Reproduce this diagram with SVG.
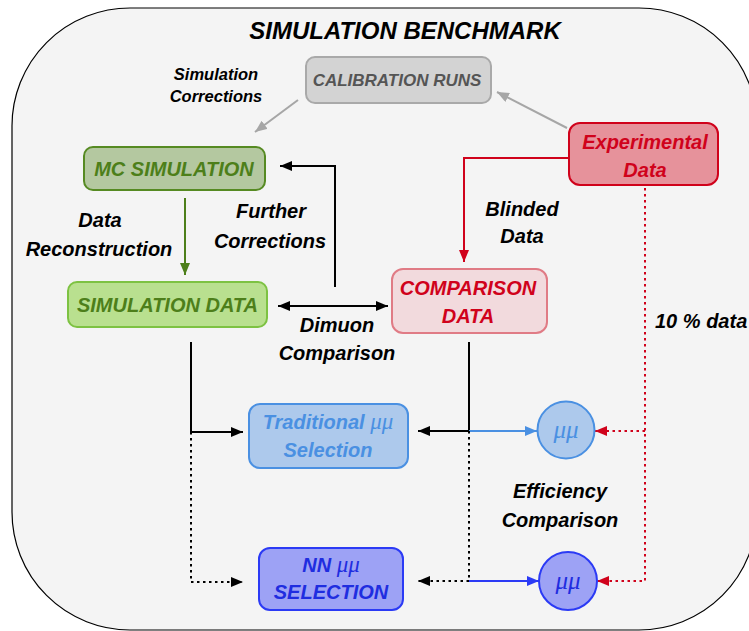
<svg xmlns="http://www.w3.org/2000/svg" width="749" height="631" viewBox="0 0 749 631">
<style>
  text { font-family: "Liberation Sans", Arial, sans-serif; font-weight: bold; font-style: italic; }
  .lbl { font-size: 20px; fill: #000; text-anchor: middle; }
  .node { font-size: 20px; text-anchor: middle; }
  .mu { font-family: "Liberation Serif", "Times New Roman", serif; font-weight: normal; font-style: italic; }
  .conn { fill: none; stroke-width: 2; }
  .dot { stroke-dasharray: 2.5 3.5; }
</style>
<defs>
  <marker id="ak" markerUnits="userSpaceOnUse" markerWidth="13" markerHeight="11" refX="12" refY="5" orient="auto"><path d="M0,0 L12,5 L0,10 z" fill="#000"/></marker>
  <marker id="aks" markerUnits="userSpaceOnUse" markerWidth="13" markerHeight="11" refX="0" refY="5" orient="auto"><path d="M12,0 L0,5 L12,10 z" fill="#000"/></marker>
  <marker id="ag" markerUnits="userSpaceOnUse" markerWidth="13" markerHeight="11" refX="12" refY="5" orient="auto"><path d="M0,0 L12,5 L0,10 z" fill="#a6a6a6"/></marker>
  <marker id="agr" markerUnits="userSpaceOnUse" markerWidth="13" markerHeight="11" refX="12" refY="5" orient="auto"><path d="M0,0 L12,5 L0,10 z" fill="#4d7f1a"/></marker>
  <marker id="ar" markerUnits="userSpaceOnUse" markerWidth="13" markerHeight="11" refX="12" refY="5" orient="auto"><path d="M0,0 L12,5 L0,10 z" fill="#d0021b"/></marker>
  <marker id="ab1" markerUnits="userSpaceOnUse" markerWidth="13" markerHeight="11" refX="12" refY="5" orient="auto"><path d="M0,0 L12,5 L0,10 z" fill="#4a90e2"/></marker>
  <marker id="ab2" markerUnits="userSpaceOnUse" markerWidth="13" markerHeight="11" refX="12" refY="5" orient="auto"><path d="M0,0 L12,5 L0,10 z" fill="#2b3af5"/></marker>
</defs>

<g id="container">
  <rect x="12" y="8" width="745" height="622" rx="118" ry="118" fill="#f4f4f4" stroke="#000" stroke-width="1.2"/>
  <text x="405" y="39" style="font-size:24px" text-anchor="middle">SIMULATION BENCHMARK</text>
</g>

<g id="connectors">
  <path class="conn" d="M298,100 L255,132" stroke="#a6a6a6" marker-end="url(#ag)"/>
  <path class="conn" d="M567,128 L497,92" stroke="#a6a6a6" marker-end="url(#ag)"/>
  <path class="conn" d="M569,158 H464 V262" stroke="#d0021b" marker-end="url(#ar)"/>
  <path class="conn" d="M335,287 V166 H280" stroke="#000" marker-end="url(#ak)"/>
  <path class="conn" d="M185,198 V275" stroke="#4d7f1a" marker-end="url(#agr)"/>
  <path class="conn" d="M278,306 H388" stroke="#000" marker-start="url(#aks)" marker-end="url(#ak)"/>
  <path class="conn" d="M191,342 V432 H243" stroke="#000" marker-end="url(#ak)"/>
  <path class="conn dot" d="M191,432 V582 H243" stroke="#000" marker-end="url(#ak)"/>
  <path class="conn" d="M469,342 V431 H418" stroke="#000" marker-end="url(#ak)"/>
  <path class="conn" d="M469,431 H537" stroke="#4a90e2" marker-end="url(#ab1)"/>
  <path class="conn dot" d="M469,431 V581 H418" stroke="#000" marker-end="url(#ak)"/>
  <path class="conn" d="M469,581 H539" stroke="#2b3af5" marker-end="url(#ab2)"/>
  <path class="conn dot" d="M645,188 V581 H597" stroke="#d0021b" marker-end="url(#ar)"/>
  <path class="conn dot" d="M645,431 H595" stroke="#d0021b" marker-end="url(#ar)"/>
</g>

<g id="labels">
  <text class="lbl" style="font-size:16.5px" x="216" y="80">Simulation</text>
  <text class="lbl" style="font-size:16.5px" x="216" y="102">Corrections</text>
  <text class="lbl" x="100" y="227">Data</text>
  <text class="lbl" x="99" y="256">Reconstruction</text>
  <text class="lbl" x="271" y="218">Further</text>
  <text class="lbl" x="270" y="248">Corrections</text>
  <text class="lbl" x="522" y="216">Blinded</text>
  <text class="lbl" x="522" y="243">Data</text>
  <text class="lbl" x="337" y="332">Dimuon</text>
  <text class="lbl" x="337" y="360">Comparison</text>
  <text class="lbl" x="655" y="328" style="text-anchor:start">10 % data</text>
  <text class="lbl" x="560" y="498">Efficiency</text>
  <text class="lbl" x="560" y="527">Comparison</text>
</g>

<g id="calibration-runs">
  <rect x="306" y="57" width="185" height="46" rx="9" fill="#d3d3d3" stroke="#a9a9a9" stroke-width="2"/>
  <text class="node" style="font-size:17px" x="397" y="86" fill="#555555">CALIBRATION RUNS</text>
</g>

<g id="mc-simulation">
  <rect x="84" y="147" width="181" height="43" rx="9" fill="#b4c8a0" stroke="#568a22" stroke-width="2"/>
  <text class="node" x="174" y="176" fill="#4d7f1a">MC SIMULATION</text>
</g>

<g id="simulation-data">
  <rect x="68" y="282" width="199" height="45" rx="9" fill="#b9e08f" stroke="#7dc242" stroke-width="2"/>
  <text class="node" x="167.5" y="312" fill="#4d7f1a">SIMULATION DATA</text>
</g>

<g id="experimental-data">
  <rect x="569" y="123" width="149" height="62" rx="11" fill="#e6929b" stroke="#d0021b" stroke-width="2"/>
  <text class="node" x="645" y="149" fill="#d0021b">Experimental</text>
  <text class="node" x="645" y="177" fill="#d0021b">Data</text>
</g>

<g id="comparison-data">
  <rect x="392" y="269" width="155" height="64" rx="11" fill="#f2dadd" stroke="#e07b85" stroke-width="2"/>
  <text class="node" x="468" y="295" fill="#d0021b">COMPARISON</text>
  <text class="node" x="468" y="323" fill="#d0021b">DATA</text>
</g>

<g id="traditional-selection">
  <rect x="249" y="404" width="159" height="64" rx="11" fill="#adc9ec" stroke="#4a90e2" stroke-width="2"/>
  <text class="node" x="328" y="429" fill="#4a90e2">Traditional <tspan class="mu" style="font-size:23px">μμ</tspan></text>
  <text class="node" x="328" y="457" fill="#4a90e2">Selection</text>
</g>

<g id="nn-selection">
  <rect x="259" y="548" width="144" height="62" rx="11" fill="#9da2f5" stroke="#2b3af5" stroke-width="2"/>
  <text class="node" x="331" y="572" fill="#1f2de0">NN <tspan class="mu" style="font-size:23px">μμ</tspan></text>
  <text class="node" x="331" y="599" fill="#1f2de0">SELECTION</text>
</g>

<g id="mumu-traditional">
  <ellipse cx="566" cy="430" rx="28.5" ry="28.5" fill="#adc9ec" stroke="#4a90e2" stroke-width="2"/>
  <text class="node mu" x="566" y="438" style="font-size:25px" fill="#4a90e2">μμ</text>
</g>

<g id="mumu-nn">
  <ellipse cx="568" cy="581" rx="29" ry="29" fill="#9da2f5" stroke="#2b3af5" stroke-width="2"/>
  <text class="node mu" x="568" y="589" style="font-size:25px" fill="#1f2de0">μμ</text>
</g>
</svg>
